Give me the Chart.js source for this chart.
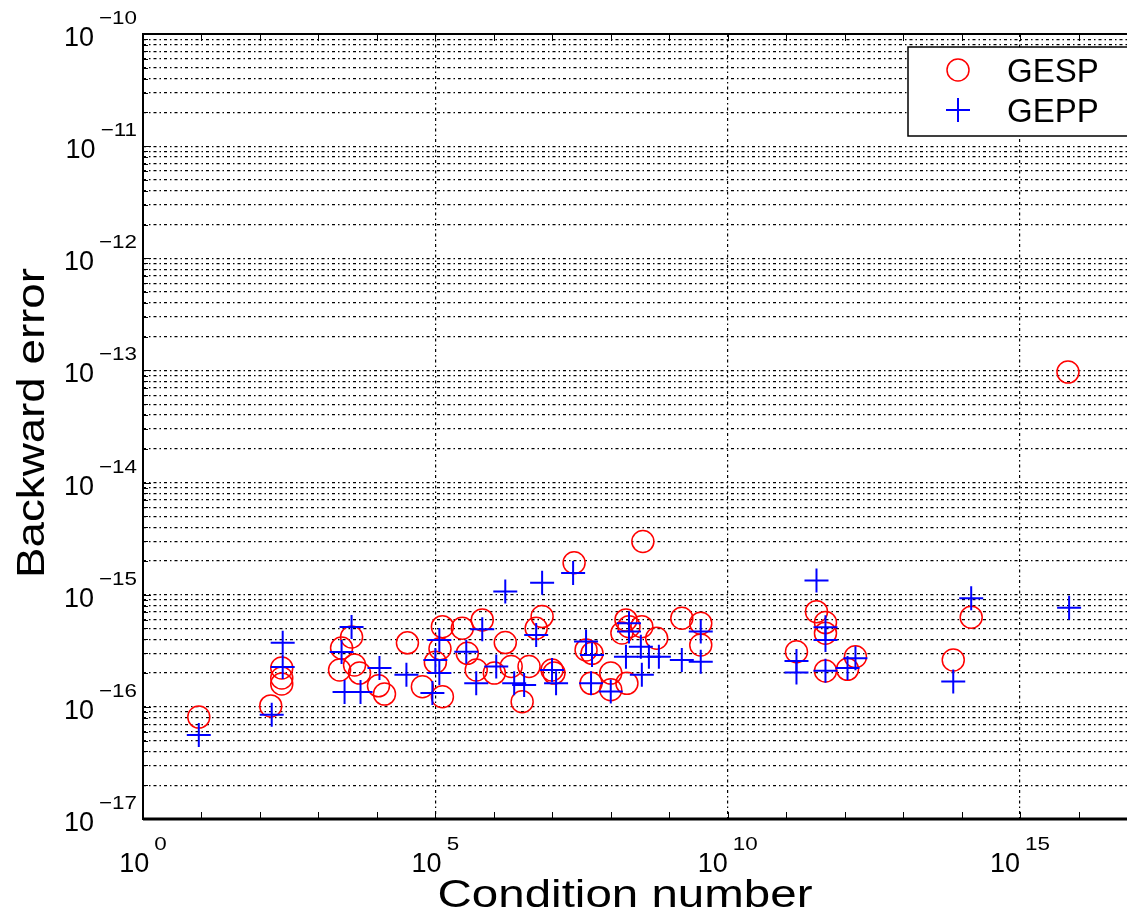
<!DOCTYPE html>
<html>
<head>
<meta charset="utf-8">
<script src="https://cdn.jsdelivr.net/npm/chart.js@4.4.1/dist/chart.umd.min.js"></script>
<style>
  html, body { margin: 0; padding: 0; background: #fff; overflow: hidden; }
  canvas { display: block; }
</style>
</head>
<body>
<canvas id="c" width="1151" height="918" style="width:1151px;height:918px"></canvas>
<script>
// ---- data ----
const gespX = [9.0, 153, 236, 236, 236, 2490, 3690, 2300, 4150, 5050, 10650, 13490, 33300, 60000,
  1.32e5, 1.32e5, 2.89e5, 6.34e5, 1.57e6, 6.7e6, 5.3e6, 2.36e7, 3.54e8, 3.52e5, 5.0e5, 1.02e6,
  1.98e6, 4.0e6, 3.05e6, 1.07e7, 9.9e6, 3.78e7, 4.78e7, 4.6e7, 1.0e8, 1.0e8, 1.89e8, 1.82e8,
  2.05e8, 3.4e8, 6.1e8, 1.64e9, 3.46e9, 3.46e9, 1.55e8, 6.6e15, 3.3e11, 4.7e11, 4.7e11, 1.5e11,
  4.7e11, 1.12e12, 1.53e12, 7.2e13, 1.46e14, 1.0e5, 1.2e5];
const gespY = [8.1e-17, 1.02e-16, 2.22e-16, 1.81e-16, 1.60e-16, 3.35e-16, 4.2e-16, 2.13e-16, 2.36e-16,
  2.0e-16, 1.54e-16, 1.30e-16, 3.72e-16, 1.51e-16, 1.23e-16, 5.19e-16, 5.02e-16, 5.96e-16, 3.74e-16,
  6.38e-16, 5.02e-16, 1.93e-15, 2.98e-15, 3.0e-16, 2.13e-16, 2.0e-16, 2.29e-16, 2.29e-16, 1.11e-16,
  2.0e-16, 2.13e-16, 3.22e-16, 3.0e-16, 1.62e-16, 2.0e-16, 1.42e-16, 1.62e-16, 5.96e-16, 5.19e-16,
  5.19e-16, 4.09e-16, 6.17e-16, 5.57e-16, 3.56e-16, 4.56e-16, 9.66e-14, 7.06e-16, 5.64e-16, 4.54e-16,
  3.1e-16, 2.09e-16, 2.16e-16, 2.8e-16, 2.62e-16, 6.3e-16, 2.5e-16, 3.3e-16];
const geppX = [9.0, 159, 245, 245, 3690, 2490, 2800, 5250, 11070, 32000, 1.57e6, 6.7e6, 2.27e7, 6.34e5,
  5.3e6, 1.17e5, 1.0e5, 1.17e5, 8.9e4, 3.38e5, 5.0e5, 1.1e6, 2.23e6, 3.3e6, 9.9e6, 1.16e7, 3.78e7,
  4.78e7, 4.6e7, 1.0e8, 2.05e8, 2.05e8, 1.82e8, 3.27e8, 3.4e8, 4.49e8, 6.65e8, 1.64e9, 3.46e9, 3.46e9,
  3.3e11, 4.7e11, 4.7e11, 1.5e11, 1.5e11, 4.7e11, 1.12e12, 1.53e12, 7.2e13, 1.46e14, 6.9e15];
const geppY = [5.6e-17, 8.5e-17, 3.72e-16, 2.27e-16, 5.16e-16, 3.09e-16, 1.36e-16, 1.36e-16, 2.22e-16,
  1.93e-16, 1.07e-15, 1.28e-15, 1.56e-15, 4.92e-16, 4.38e-16, 3.95e-16, 2.62e-16, 2.0e-16, 1.33e-16,
  3.1e-16, 1.62e-16, 2.29e-16, 1.62e-16, 1.57e-16, 2.13e-16, 1.62e-16, 3.82e-16, 2.9e-16, 1.62e-16,
  1.37e-16, 5.57e-16, 4.69e-16, 2.8e-16, 3.44e-16, 1.93e-16, 2.8e-16, 2.8e-16, 2.62e-16, 4.69e-16,
  2.53e-16, 1.34e-15, 5.13e-16, 3.95e-16, 2.57e-16, 2.02e-16, 2.1e-16, 2.22e-16, 2.71e-16, 1.68e-16,
  9.3e-16, 7.67e-16];

const seriesNames = ['GESP', 'GEPP'];
const xTickExponents = [0, 5, 10, 15];            // labelled x ticks
const yTickExponents = [-17, -16, -15, -14, -13, -12, -11, -10]; // labelled y ticks
const xGridExponents = [5, 10, 15];
const xRangeExp = [0, 17];
const yRangeExp = [-17, -10];
const xTitle = 'Condition number';
const yTitle = 'Backward error';

const FONT = '"Liberation Sans", Arial, Helvetica, sans-serif';

function drawPow(ctx, exp, x, baseY, align) {
  const sup = (exp < 0 ? '\u2212' + Math.abs(exp) : String(exp));
  ctx.font = '27px ' + FONT;
  const wBase = ctx.measureText('10').width;
  ctx.font = '19px ' + FONT;
  const wSupRaw = ctx.measureText(sup).width;
  const sx = 1.18;
  const wSup = wSupRaw * sx;
  const gap = 5;
  let left;
  if (align === 'right') left = x - wSup - gap - wBase;
  else left = x - (wBase + gap + wSup) / 2;
  ctx.textAlign = 'left';
  ctx.textBaseline = 'alphabetic';
  ctx.font = '27px ' + FONT;
  ctx.fillText('10', left, baseY);
  ctx.save();
  ctx.translate(left + wBase + gap, baseY - 22);
  ctx.scale(sx, 1);
  ctx.font = '19px ' + FONT;
  ctx.fillText(sup, 0, 0);
  ctx.restore();
}

const decor = {
  id: 'decor',
  afterDraw(chart) {
    const { ctx, chartArea: a, scales: { x, y } } = chart;
    ctx.save();
    ctx.strokeStyle = '#000';
    ctx.fillStyle = '#000';
    ctx.lineWidth = 1;
    for (let e = xRangeExp[0] + 1; e < xRangeExp[1]; e++) {
      const px = Math.round(x.getPixelForValue(Math.pow(10, e))) + 0.5;
      ctx.beginPath();
      ctx.moveTo(px, a.bottom); ctx.lineTo(px, a.bottom - 7);
      ctx.moveTo(px, a.top); ctx.lineTo(px, a.top + 7);
      ctx.stroke();
    }
    for (const t of y.ticks) {
      const py = Math.round(y.getPixelForValue(t.value)) + 0.5;
      const lg = Math.log10(t.value);
      const major = Math.abs(lg - Math.round(lg)) < 1e-6;
      ctx.beginPath();
      ctx.moveTo(a.left, py); ctx.lineTo(a.left + (major ? 8 : 5), py);
      ctx.stroke();
    }
    ctx.lineWidth = 2;
    ctx.beginPath();
    ctx.moveTo(a.right, a.top); ctx.lineTo(a.left, a.top);
    ctx.lineTo(a.left, a.bottom); ctx.lineTo(a.right, a.bottom);
    ctx.stroke();
    ctx.lineWidth = 3;
    ctx.beginPath();
    ctx.moveTo(a.left, a.bottom); ctx.lineTo(a.right, a.bottom);
    ctx.stroke();

    for (const e of yTickExponents) {
      const py = y.getPixelForValue(Math.pow(10, e));
      drawPow(ctx, e, 137, py + 12, 'right');
    }
    for (const e of xTickExponents) {
      const px = x.getPixelForValue(Math.pow(10, e));
      drawPow(ctx, e, px, 872, 'center');
    }

    ctx.font = '39px ' + FONT;
    ctx.textAlign = 'center';
    ctx.textBaseline = 'alphabetic';
    let w = ctx.measureText(xTitle).width;
    ctx.save();
    ctx.translate(625, 907);
    ctx.scale(375 / w, 1);
    ctx.fillText(xTitle, 0, 0);
    ctx.restore();
    w = ctx.measureText(yTitle).width;
    ctx.save();
    ctx.translate(44, 423);
    ctx.rotate(-Math.PI / 2);
    ctx.scale(310 / w, 1);
    ctx.fillText(yTitle, 0, 0);
    ctx.restore();

    ctx.fillStyle = '#fff';
    ctx.fillRect(908, 47, 250, 89);
    ctx.lineWidth = 1.5;
    ctx.strokeStyle = '#000';
    ctx.strokeRect(908, 47, 250, 89);
    ctx.strokeStyle = '#ff0000';
    ctx.lineWidth = 1.5;
    ctx.beginPath(); ctx.arc(958, 70, 11, 0, Math.PI * 2); ctx.stroke();
    ctx.strokeStyle = '#0000ff';
    ctx.lineWidth = 2;
    ctx.beginPath();
    ctx.moveTo(946, 110); ctx.lineTo(970, 110);
    ctx.moveTo(958, 98); ctx.lineTo(958, 122);
    ctx.stroke();
    ctx.fillStyle = '#000';
    ctx.textAlign = 'left';
    ctx.font = '33px ' + FONT;
    ctx.fillText(seriesNames[0], 1007, 82);
    ctx.fillText(seriesNames[1], 1007, 122);
    ctx.restore();
  }
};

const gridDash = [3, 3, 1.5, 3];

new Chart(document.getElementById('c'), {
  type: 'scatter',
  data: {
    datasets: [
      {
        label: seriesNames[0],
        data: gespX.map((v, i) => ({ x: v, y: gespY[i] })),
        pointStyle: 'circle',
        pointRadius: 11,
        pointHoverRadius: 11,
        borderColor: '#ff0000',
        backgroundColor: 'rgba(0,0,0,0)',
        borderWidth: 1.5,
        order: 2
      },
      {
        label: seriesNames[1],
        data: geppX.map((v, i) => ({ x: v, y: geppY[i] })),
        pointStyle: 'cross',
        pointRadius: 12,
        pointHoverRadius: 12,
        borderColor: '#0000ff',
        backgroundColor: '#0000ff',
        borderWidth: 2,
        order: 1
      }
    ]
  },
  options: {
    responsive: false,
    animation: false,
    devicePixelRatio: 1,
    layout: { padding: { left: 143, top: 34, right: 6, bottom: 99 } },
    plugins: { legend: { display: false }, tooltip: { enabled: false } },
    scales: {
      x: {
        type: 'logarithmic',
        min: Math.pow(10, xRangeExp[0]),
        max: Math.pow(10, xRangeExp[1]),
        afterBuildTicks(scale) {
          const t = [];
          for (let e = xRangeExp[0]; e <= xRangeExp[1]; e++) t.push({ value: Math.pow(10, e) });
          scale.ticks = t;
        },
        ticks: { display: false },
        border: { display: false, dash: gridDash },
        grid: {
          drawTicks: false,
          lineWidth: 1.2,
          color: (c) => {
            if (!c.tick) return 'rgba(0,0,0,0)';
            const e = Math.round(Math.log10(c.tick.value));
            return xGridExponents.includes(e) ? '#000' : 'rgba(0,0,0,0)';
          }
        }
      },
      y: {
        type: 'logarithmic',
        min: Math.pow(10, yRangeExp[0]),
        max: Math.pow(10, yRangeExp[1]),
        afterBuildTicks(scale) {
          const t = [];
          for (let e = yRangeExp[0]; e < yRangeExp[1]; e++) {
            for (let k = 1; k <= 9; k++) t.push({ value: k * Math.pow(10, e) });
          }
          t.push({ value: Math.pow(10, yRangeExp[1]) });
          scale.ticks = t;
        },
        ticks: { display: false },
        border: { display: false, dash: gridDash },
        grid: { drawTicks: false, lineWidth: 1.2, color: '#000' }
      }
    }
  },
  plugins: [decor]
});
</script>
</body>
</html>
